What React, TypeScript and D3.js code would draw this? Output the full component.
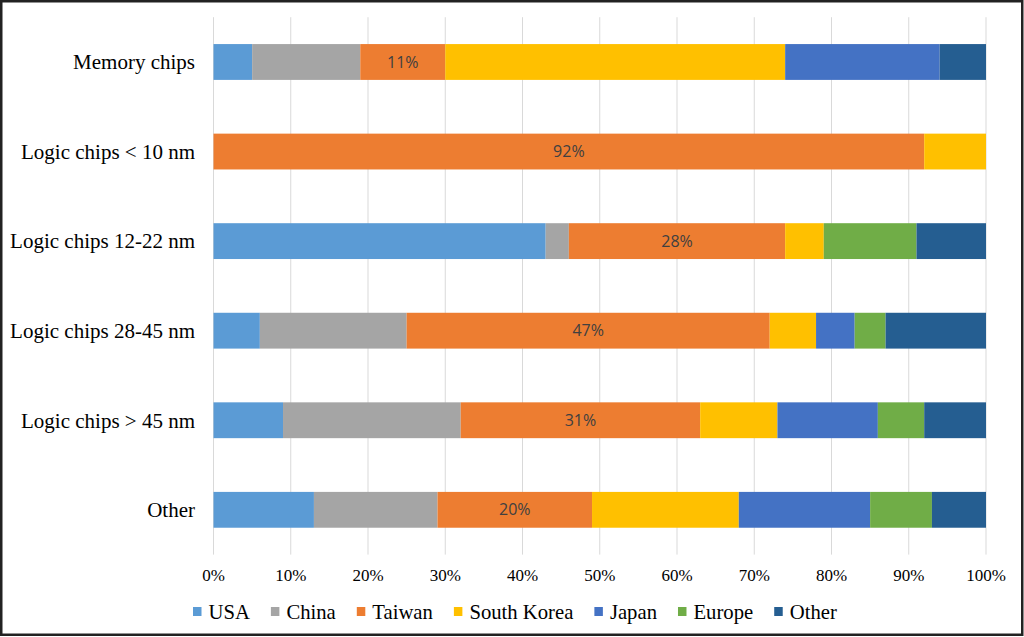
import React from "react";
import * as d3 from "d3";

const categories = [
  "Memory chips",
  "Logic chips < 10 nm",
  "Logic chips 12-22 nm",
  "Logic chips 28-45 nm",
  "Logic chips > 45 nm",
  "Other",
];
const seriesNames = ["USA", "China", "Taiwan", "South Korea", "Japan", "Europe", "Other"];
const seriesColors = ["#5B9BD5", "#A5A5A5", "#ED7D31", "#FFC000", "#4472C4", "#70AD47", "#255E91"];

const usa = [5, 0, 43, 6, 9, 13];
const china = [14, 0, 3, 19, 23, 16];
const taiwan = [11, 92, 28, 47, 31, 20];
const southKorea = [44, 8, 5, 6, 10, 19];
const japan = [20, 0, 0, 5, 13, 17];
const europe = [0, 0, 12, 4, 6, 8];
const other = [6, 0, 9, 13, 8, 7];

const seriesValues = [usa, china, taiwan, southKorea, japan, europe, other];
const xTicks = [0, 10, 20, 30, 40, 50, 60, 70, 80, 90, 100];

const W = 1024;
const H = 637;
const M = { left: 213.5, right: 986, top: 17.2, bottom: 554.6 };

function measure(text: string, font: string): number {
  if (typeof document === "undefined") return text.length * 10;
  const c = document.createElement("canvas");
  const ctx = c.getContext("2d");
  if (!ctx) return text.length * 10;
  ctx.font = font;
  return ctx.measureText(text).width;
}

export default function App() {
  const x = d3.scaleLinear().domain([0, 100]).range([M.left, M.right]);
  const y = d3
    .scaleBand<string>()
    .domain(categories)
    .range([M.top, M.bottom])
    .paddingInner(0.6)
    .paddingOuter(0.3);

  const rows = categories.map((cat, i) => {
    const obj: any = { cat };
    seriesNames.forEach((s, j) => (obj[s] = seriesValues[j][i]));
    return obj;
  });
  const stack = d3.stack<any>().keys(seriesNames)(rows);

  const serif = "'Liberation Serif', 'Times New Roman', serif";
  const legendSize = 20.7;
  const legendFont = `${legendSize}px ${serif}`;
  let lx = 193;
  const legendItems = seriesNames.map((name, i) => {
    const item = { name, color: seriesColors[i], sx: lx, tx: lx + 15.5 };
    lx = lx + 15.5 + measure(name, legendFont) + 21;
    return item;
  });

  return (
    <svg
      width={W}
      height={H}
      style={{ position: "absolute", left: 0, top: 0, display: "block", background: "#fff" }}
    >
      <rect x={0} y={0} width={W} height={H} fill="#fff" />
      {xTicks.map((t) => (
        <line
          key={"g" + t}
          x1={x(t)}
          x2={x(t)}
          y1={M.top}
          y2={M.bottom}
          stroke="#D9D9D9"
          strokeWidth={1}
        />
      ))}
      {stack.map((layer, j) => (
        <g key={layer.key} fill={seriesColors[j]}>
          {layer.map((d, i) =>
            d[1] - d[0] > 0 ? (
              <rect
                key={i}
                x={x(d[0])}
                y={y(categories[i])}
                width={x(d[1]) - x(d[0])}
                height={y.bandwidth()}
              />
            ) : null
          )}
        </g>
      ))}
      {stack[2].map((d, i) => (
        <text
          key={"lab" + i}
          x={(x(d[0]) + x(d[1])) / 2}
          y={(y(categories[i]) as number) + y.bandwidth() / 2}
          dy="0.35em"
          textAnchor="middle"
          fontFamily="'Open Sans', sans-serif"
          fontSize={16}
          fill="#404040"
        >
          {taiwan[i]}%
        </text>
      ))}
      {categories.map((c) => (
        <text
          key={"c" + c}
          x={195}
          y={(y(c) as number) + y.bandwidth() / 2}
          dy="0.35em"
          textAnchor="end"
          fontFamily={serif}
          fontSize={21}
          fill="#000"
        >
          {c}
        </text>
      ))}
      {xTicks.map((t) => (
        <text
          key={"t" + t}
          x={x(t)}
          y={575}
          dy="0.35em"
          textAnchor="middle"
          fontFamily={serif}
          fontSize={17}
          fill="#000"
        >
          {t}%
        </text>
      ))}
      {legendItems.map((it) => (
        <g key={"l" + it.name}>
          <rect x={it.sx} y={607} width={8.5} height={9} fill={it.color} />
          <text
            x={it.tx}
            y={611.5}
            dy="0.35em"
            fontFamily={serif}
            fontSize={legendSize}
            fill="#000"
          >
            {it.name}
          </text>
        </g>
      ))}
      <rect
        x={1.25}
        y={1.25}
        width={1021}
        height={633.5}
        fill="none"
        stroke="#222"
        strokeWidth={2.5}
      />
    </svg>
  );
}
